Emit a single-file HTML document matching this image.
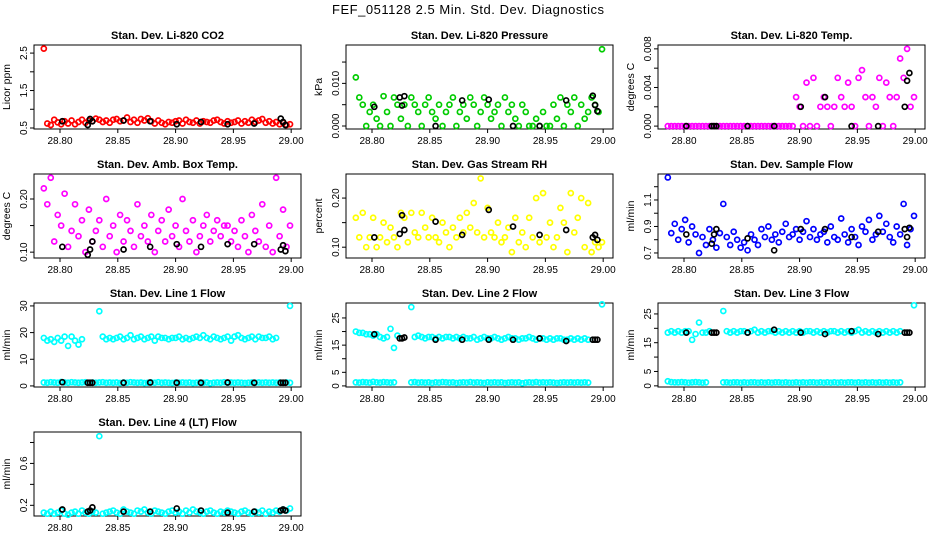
<!DOCTYPE html>
<html><head><meta charset="utf-8"><style>
html,body{margin:0;padding:0;background:#fff;}
svg{display:block;font-family:"Liberation Sans",sans-serif;}
.t{font-size:11px;font-weight:bold;}
.tick{font-size:10px;}
.yl{font-size:10.5px;}
</style></head><body>
<svg id="chart" width="936" height="540" viewBox="0 0 936 540">
<text x="468" y="14" text-anchor="middle" font-size="13" textLength="272">FEF_051128  2.5 Min. Std. Dev. Diagnostics</text>
</svg>
<script>
const times=[28.786,28.789,28.792,28.795,28.798,28.801,28.804,28.807,28.810,28.813,28.816,28.819,28.822,28.825,28.828,28.831,28.834,28.837,28.840,28.843,28.846,28.849,28.852,28.855,28.858,28.861,28.864,28.867,28.870,28.873,28.876,28.879,28.882,28.885,28.888,28.891,28.894,28.897,28.900,28.903,28.906,28.909,28.912,28.915,28.918,28.921,28.924,28.927,28.930,28.933,28.936,28.939,28.942,28.945,28.948,28.951,28.954,28.957,28.960,28.963,28.966,28.969,28.972,28.975,28.978,28.981,28.984,28.987,28.990,28.993,28.996,28.999];
const blackTimes=[28.802,28.824,28.826,28.828,28.855,28.878,28.901,28.922,28.945,28.968,28.991,28.993,28.995];
const xTicks=[28.80,28.85,28.90,28.95,29.00];
const xTickLabels=["28.80","28.85","28.90","28.95","29.00"];

const co2=[2.62,0.62,0.58,0.72,0.65,0.6,0.68,0.62,0.7,0.6,0.66,0.72,0.64,0.7,0.68,0.75,0.72,0.66,0.7,0.64,0.72,0.74,0.68,0.7,0.78,0.66,0.72,0.64,0.74,0.7,0.76,0.68,0.62,0.7,0.64,0.6,0.66,0.64,0.68,0.7,0.62,0.72,0.66,0.64,0.7,0.62,0.68,0.66,0.64,0.7,0.72,0.66,0.62,0.68,0.64,0.66,0.7,0.62,0.68,0.64,0.72,0.66,0.7,0.74,0.64,0.68,0.62,0.66,0.6,0.64,0.58,0.6];
const co2Black=[0.68,0.58,0.74,0.68,0.7,0.68,0.6,0.66,0.6,0.62,0.75,0.66,0.58];
const pres=[0.0114,0.0067,0.005,0,0.0033,0.005,0.0017,0,0.007,0.0033,0,0.0067,0.005,0.0017,0.005,0,0.0067,0.005,0.0033,0,0.005,0.0067,0.0033,0.0017,0.005,0,0.0033,0.005,0.0067,0,0.0033,0.005,0.0017,0.0067,0.005,0,0.0033,0.0067,0.005,0.0017,0.0033,0.005,0,0.0067,0.0033,0.005,0.0017,0,0.005,0.0033,0,0,0.0017,0,0.0033,0,0,0.005,0.0017,0.0067,0,0.005,0.0033,0.0067,0,0.005,0.0017,0.0033,0.0067,0.005,0.0033,0.018];
const presBlack=[0.0045,0.0067,0.0048,0.007,0,0.006,0.0062,0,0,0.006,0.0071,0.0049,0.0035];
const temp=[0,0,0,0,0,0,0,0,0,0,0,0,0,0,0,0,0,0,0,0,0,0,0,0,0,0,0,0,0,0,0,0,0,0,0,0,0,0.003,0.002,0,0.0045,0,0.005,0,0.002,0.003,0.002,0,0.002,0.005,0.003,0.002,0.0045,0.002,0,0.005,0.0058,0.003,0,0.003,0.002,0.005,0,0.0045,0.003,0,0.003,0.007,0.005,0.008,0.002,0.003];
const tempBlack=[0,0,0,0,0,0,0.002,0.003,0,0,0.002,0.0047,0.0055];
const amb=[0.22,0.19,0.24,0.12,0.17,0.15,0.21,0.11,0.14,0.19,0.13,0.16,0.1,0.18,0.12,0.14,0.16,0.11,0.2,0.13,0.15,0.1,0.17,0.12,0.16,0.14,0.11,0.19,0.13,0.15,0.12,0.17,0.1,0.14,0.16,0.12,0.18,0.13,0.15,0.11,0.2,0.14,0.12,0.16,0.1,0.13,0.15,0.17,0.12,0.14,0.16,0.13,0.15,0.15,0.12,0.14,0.11,0.16,0.13,0.1,0.17,0.14,0.12,0.19,0.11,0.15,0.1,0.24,0.13,0.18,0.11,0.15];
const ambBlack=[0.11,0.095,0.105,0.12,0.105,0.11,0.115,0.11,0.115,0.115,0.105,0.113,0.102];
const rh=[0.16,0.12,0.17,0.1,0.12,0.16,0.1,0.12,0.15,0.11,0.14,0.12,0.1,0.17,0.16,0.11,0.17,0.13,0.12,0.17,0.14,0.12,0.16,0.12,0.11,0.15,0.13,0.1,0.14,0.12,0.16,0.13,0.17,0.14,0.19,0.13,0.24,0.12,0.18,0.13,0.12,0.15,0.11,0.12,0.14,0.09,0.16,0.11,0.13,0.1,0.16,0.12,0.2,0.11,0.21,0.12,0.15,0.1,0.12,0.18,0.15,0.09,0.21,0.13,0.16,0.2,0.1,0.19,0.09,0.11,0.1,0.11];
const rhBlack=[0.12,0.127,0.165,0.135,0.152,0.125,0.176,0.142,0.125,0.135,0.12,0.125,0.115];
const samp=[1.27,0.85,0.92,0.8,0.88,0.95,0.78,0.9,0.84,0.7,0.82,0.76,0.88,0.8,0.74,0.85,1.07,0.82,0.76,0.86,0.8,0.74,0.78,0.72,0.84,0.8,0.76,0.88,0.82,0.9,0.8,0.84,0.78,0.86,0.92,0.82,0.84,0.88,0.8,0.86,0.94,0.82,0.88,0.8,0.84,0.86,0.78,0.9,0.82,0.8,0.96,0.84,0.78,0.88,0.82,0.76,0.9,0.86,0.95,0.8,0.84,0.98,0.86,0.92,0.82,0.78,0.9,0.84,1.07,0.76,0.88,0.98];
const sampBlack=[0.84,0.77,0.84,0.88,0.81,0.72,0.88,0.88,0.82,0.86,0.88,0.82,0.89];
const line1High=[18,17,17.5,16.5,18,17,18.5,15,18.5,17,15.5,17.5,null,null,null,null,28,18.5,17.5,18,17.5,18,18.5,17.5,18,19,17.5,18,18.5,17.5,18,18.5,17,18.5,18,18,17.5,18,18,18.5,17.5,18,17.5,18,18.5,18,19,18,17.5,18.5,18,17.5,18,18.5,17,18.5,19,18,17.5,18,18.5,17.5,18.5,18,18,18.5,17.5,18,null,null,null,30];
const line1Low=[1.3,1.2,1.4,1.3,1.2,1.5,1.3,1.2,1.4,1.3,1.2,1.3,1.4,1.2,1.3,1.2,1.3,1.4,1.2,1.3,1.2,1.3,1.1,1.3,1.2,1.4,1.3,1.2,1.3,1.1,1.2,1.3,1.2,1.4,1.2,1.3,1.2,1.1,1.3,1.2,1.3,1.2,1.3,1.1,1.2,1.3,1.2,1.3,1.0,1.2,1.3,1.2,1.4,1.2,1.3,1.2,1.3,1.2,1.1,1.2,1.3,1.2,1.3,1.2,1.3,1.2,1.3,1.2,1.3,1.2,1.3,1.2];
const line1Black=[1.4,1.2,1.2,1.2,1.2,1.3,1.2,1.2,1.3,1.2,1.2,1.2,1.2];
const line2High=[20,19.5,19.5,19,19,18.5,19,18,17.5,18,21,14,18.5,null,null,null,29,18,18.5,18,17.5,18,18,17.5,18,17.5,18,18,17.5,18,17.5,18,17.5,17.5,18,17,17.5,18,17.5,17.5,18,17.5,17,17.5,18,17.5,17.5,17,17.5,17.5,18,17.5,17,17.5,17.5,17,17.5,17,17.5,17.5,17,17,17.5,17,17.5,17,17.5,17,null,null,null,30];
const line2Low=[1.3,1.2,1.4,1.3,1.2,1.5,1.3,1.2,1.4,1.3,1.2,1.3,null,null,null,null,1.3,1.4,1.2,1.3,1.2,1.3,1.1,1.3,1.2,1.4,1.3,1.2,1.3,1.1,1.2,1.3,1.2,1.4,1.2,1.3,1.2,1.1,1.3,1.2,1.3,1.2,1.3,1.1,1.2,1.3,1.2,1.3,1.0,1.2,1.3,1.2,1.4,1.2,1.3,1.2,1.3,1.2,1.1,1.2,1.3,1.2,1.3,1.2,1.3,1.2,1.3,1.2,null,null,null,null];
const line2Black=[19,17.5,17.5,17.8,17,17,17,17,17.5,16.5,17,17,17];
const line3High=[18.5,19,18.5,19,18.5,19,19,16,18,22,18.5,18.5,19,null,null,null,26,19,18.5,19,18.5,19,19,18.5,19,19.5,18.5,19,18.5,19,19,18.5,19,18.5,19,18.5,19,18.5,19,18.5,19,19,18.5,19,18.5,19,18.5,19,19,18.5,19,18.5,19,18.5,19,19.5,18.5,19,18.5,19,18.5,19,18.5,19,18.5,19,18.5,19,null,null,null,28];
const line3Low=[1.6,1.3,1.2,1.2,1.3,1.2,1.1,1.2,1.3,1.2,1.1,1.2,null,null,null,null,1.2,1.2,1.1,1.2,1.2,1.1,1.2,1.1,1.2,1.2,1.1,1.2,1.1,1.2,1.1,1.2,1.2,1.1,1.2,1.1,1.1,1.2,1.1,1.2,1.1,1.2,1.2,1.1,1.2,1.1,1.2,1.1,1.2,1.1,1.2,1.1,1.2,1.2,1.1,1.2,1.1,1.2,1.1,1.2,1.1,1.2,1.1,1.2,1.1,1.2,1.1,1.2,null,null,null,null];
const line3Black=[18.5,18.5,18.5,18.5,18.5,19.5,18.5,18,19,18,18.5,18.5,18.5];
const line4=[0.13,0.12,0.14,0.12,0.13,0.15,0.12,0.11,0.13,0.14,0.12,0.15,0.13,0.12,0.14,0.13,0.86,0.12,0.13,0.14,0.15,0.13,0.12,0.16,0.14,0.13,0.12,0.15,0.14,0.16,0.13,0.12,0.15,0.14,0.13,0.12,0.14,0.15,0.13,0.14,0.12,0.15,0.13,0.16,0.14,0.13,0.12,0.14,0.15,0.13,0.12,0.14,0.13,0.15,0.14,0.13,0.12,0.14,0.15,0.13,0.12,0.14,0.13,0.15,0.12,0.14,0.13,0.15,0.14,0.16,0.15,0.17];
const line4Black=[0.16,0.14,0.15,0.18,0.14,0.14,0.17,0.15,0.13,0.14,0.15,0.16,0.15];

const NS="http://www.w3.org/2000/svg";
const svg=document.getElementById('chart');
const W=267,H=84,X0=28.7775,X1=29.0085;
function mk(tag,attrs,parent){const e=document.createElementNS(NS,tag);for(const k in attrs)e.setAttribute(k,attrs[k]);(parent||svg).appendChild(e);return e;}

const panels=[
 {name:'co2',title:'Stan. Dev. Li-820 CO2',ylab:'Licor ppm',left:34,top:45,y0:0.473,y1:2.716,ticks:[0.5,1.0,1.5,2.0,2.5],labels:{0.5:'0.5',1.5:'1.5',2.5:'2.5'},series:[[co2,'#ff0000']],black:co2Black},
 {name:'pressure',title:'Stan. Dev. Li-820 Pressure',ylab:'kPa',left:346,top:45,y0:-0.0007,y1:0.019,ticks:[0,0.005,0.010,0.015],labels:{0:'0.000',0.01:'0.010'},series:[[pres,'#00cc00']],black:presBlack},
 {name:'li820-temp',title:'Stan. Dev. Li-820 Temp.',ylab:'degrees C',left:658,top:45,y0:-0.0003,y1:0.0084,ticks:[0,0.002,0.004,0.006,0.008],labels:{0:'0.000',0.004:'0.004',0.008:'0.008'},series:[[temp,'#ff00ff']],black:tempBlack},
 {name:'amb-box-temp',title:'Stan. Dev. Amb. Box Temp.',ylab:'degrees C',left:34,top:174,y0:0.089,y1:0.247,ticks:[0.10,0.15,0.20],labels:{0.1:'0.10',0.2:'0.20'},series:[[amb,'#ff00ff']],black:ambBlack},
 {name:'gas-stream-rh',title:'Stan. Dev. Gas Stream RH',ylab:'percent',left:346,top:174,y0:0.078,y1:0.249,ticks:[0.10,0.15,0.20],labels:{0.1:'0.10',0.2:'0.20'},series:[[rh,'#ffff00']],black:rhBlack},
 {name:'sample-flow',title:'Stan. Dev. Sample Flow',ylab:'ml/min',left:658,top:174,y0:0.662,y1:1.296,ticks:[0.7,0.8,0.9,1.0,1.1,1.2],labels:{0.7:'0.7',0.9:'0.9',1.1:'1.1'},series:[[samp,'#0000ff']],black:sampBlack},
 {name:'line1-flow',title:'Stan. Dev. Line 1 Flow',ylab:'ml/min',left:34,top:303,y0:-0.4,y1:31.1,ticks:[0,10,20,30],labels:{0:'0',10:'10',20:'20',30:'30'},series:[[line1High,'#00ffff'],[line1Low,'#00ffff']],black:line1Black},
 {name:'line2-flow',title:'Stan. Dev. Line 2 Flow',ylab:'ml/min',left:346,top:303,y0:-0.4,y1:30.5,ticks:[0,5,10,15,20,25],labels:{0:'0',5:'5',15:'15',25:'25'},series:[[line2High,'#00ffff'],[line2Low,'#00ffff']],black:line2Black},
 {name:'line3-flow',title:'Stan. Dev. Line 3 Flow',ylab:'ml/min',left:658,top:303,y0:-0.4,y1:28.8,ticks:[0,5,10,15,20,25],labels:{0:'0',5:'5',15:'15',25:'25'},series:[[line3High,'#00ffff'],[line3Low,'#00ffff']],black:line3Black},
 {name:'line4-flow',title:'Stan. Dev. Line 4 (LT) Flow',ylab:'ml/min',left:34,top:432,y0:0.098,y1:0.9,ticks:[0.2,0.4,0.6,0.8],labels:{0.2:'0.2',0.6:'0.6'},series:[[line4,'#00ffff']],black:line4Black}
];

panels.forEach(p=>{
  const g=mk('g',{});
  
  
  const xs=v=>p.left+(v-X0)/(X1-X0)*W;
  const ys=v=>p.top+H-(v-p.y0)/(p.y1-p.y0)*H;
  const cx=p.left+W/2;
  const t=mk('text',{x:cx,y:p.top-6,'text-anchor':'middle',class:'t'},g);t.textContent=p.title;
  
  
  const box=mk('rect',{x:p.left,y:p.top,width:W,height:H,fill:'none',stroke:'#000','stroke-width':1},g);
  
  
  xTicks.forEach((v,i)=>{
    const x=xs(v);
    mk('line',{x1:x,x2:x,y1:p.top+H,y2:p.top+H+4,stroke:'#000'},g);
    const l=mk('text',{x:x,y:p.top+H+15,'text-anchor':'middle',class:'tick'},g);l.textContent=xTickLabels[i];
    
    
  });
  p.ticks.forEach(v=>{
    const y=ys(v);
    mk('line',{x1:p.left-4,x2:p.left,y1:y,y2:y,stroke:'#000'},g);
    const key=Object.keys(p.labels).find(k=>Math.abs(parseFloat(k)-v)<1e-9);
    if(key!==undefined){
      const l=mk('text',{x:0,y:0,'text-anchor':'middle',class:'tick',transform:`translate(${p.left-7},${y}) rotate(-90)`},g);
      l.textContent=p.labels[key];
      
      
    }
  });
  const yl=mk('text',{x:0,y:0,'text-anchor':'middle',class:'yl',transform:`translate(${p.left-24},${p.top+H/2}) rotate(-90)`},g);
  yl.textContent=p.ylab;
  
  
  p.series.forEach(([arr,col])=>{
    arr.forEach((v,i)=>{
      if(v===null)return;
      const c=mk('circle',{cx:xs(times[i]),cy:ys(v),r:2.5,fill:'none',stroke:col,'stroke-width':1.7},g);
      
      
    });
  });
  p.black.forEach((v,i)=>{
    const c=mk('circle',{cx:xs(blackTimes[i]),cy:ys(v),r:2.5,fill:'none',stroke:'#000','stroke-width':1.7},g);
    
    
  });
});
</script>
</body></html>
